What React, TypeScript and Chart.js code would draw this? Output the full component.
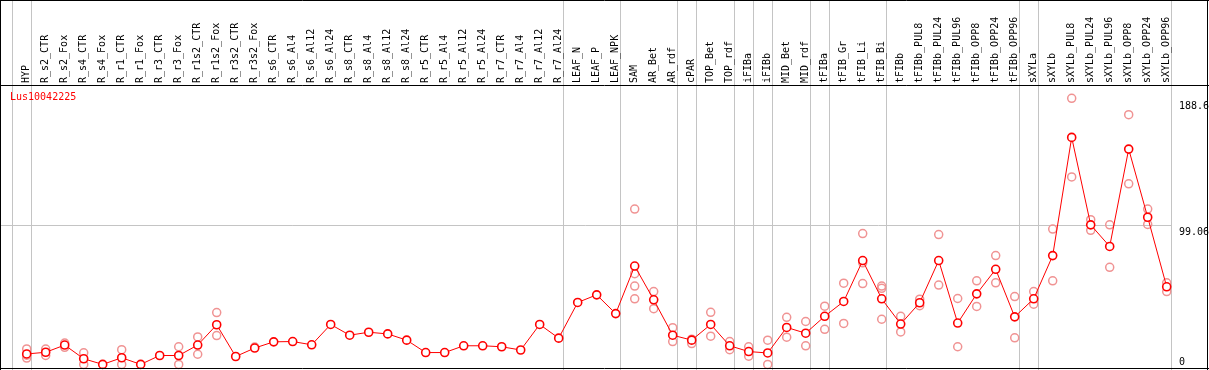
import React, { useEffect, useRef } from "react";
import { Chart, registerables } from "chart.js";

Chart.register(...registerables);

const W = 1209;
const H = 370;

const chartTitle = "Lus10042225";

const categories = [
  "HYP", "R_s2_CTR", "R_s2_Fox", "R_s4_CTR", "R_s4_Fox", "R_r1_CTR", "R_r1_Fox",
  "R_r3_CTR", "R_r3_Fox", "R_r1s2_CTR", "R_r1s2_Fox", "R_r3s2_CTR", "R_r3s2_Fox",
  "R_s6_CTR", "R_s6_Al4", "R_s6_Al12", "R_s6_Al24", "R_s8_CTR", "R_s8_Al4",
  "R_s8_Al12", "R_s8_Al24", "R_r5_CTR", "R_r5_Al4", "R_r5_Al12", "R_r5_Al24",
  "R_r7_CTR", "R_r7_Al4", "R_r7_Al12", "R_r7_Al24", "LEAF_N", "LEAF_P", "LEAF_NPK",
  "SAM", "AR_Bet", "AR_rdf", "cPAR", "TOP_Bet", "TOP_rdf", "iFIBa", "iFIBb",
  "MID_Bet", "MID_rdf", "tFIBa", "tFIB_Gr", "tFIB_Li", "tFIB_Bi", "tFIBb",
  "tFIBb_PUL8", "tFIBb_PUL24", "tFIBb_PUL96", "tFIBb_OPP8", "tFIBb_OPP24",
  "tFIBb_OPP96", "sXYLa", "sXYLb", "sXYLb_PUL8", "sXYLb_PUL24", "sXYLb_PUL96",
  "sXYLb_OPP8", "sXYLb_OPP24", "sXYLb_OPP96",
];

const meanValues = [
  7.4, 8.6, 13.7, 4.0, 0, 4.7, 0, 6.3, 6.3, 13.7, 28.1, 5.6, 11.6,
  16.0, 16.2, 13.9, 28.3, 20.7, 22.8, 21.6, 17.2, 8.4, 8.4, 13.2, 13.2,
  12.5, 10.2, 28.3, 18.6, 43.9, 49.3, 36.0, 69.7, 45.8, 20.7, 17.2, 28.3,
  13.2, 9.1, 8.1, 26.2, 22.1, 34.1, 44.6, 73.6, 46.5, 28.6, 43.7, 73.6,
  29.3, 50.0, 67.4, 33.7, 46.5, 77.1, 160.9, 98.9, 83.6, 152.6, 104.3, 55.0,
];

const N = null;
const repA = [
  11, 10.9, 15.1, 8.2, N, 10.4, N, N, 12.5, 19.5, 36.7, N, 12.3,
  N, N, N, N, N, N, N, N, N, N, N, N,
  N, N, N, N, N, N, N, 110.1, 51.6, 26.0, 17.9, 36.9,
  16.2, 12.5, 17.2, 33.4, 30.4, 41.3, 57.6, 92.7, 55.5, 34.1, 46.2, 92.0,
  46.7, 59.2, 77.1, 48.1, 51.6, 95.9, 188.6, 102.6, 98.9, 177.0, 110.1, 57.8,
];
const repB = [
  4.5, 6.3, 12.1, 0, N, 0, N, N, 0, 7.2, 20.4, N, N,
  N, N, N, N, N, N, N, N, N, N, N, N,
  N, N, N, N, N, N, N, 46.5, 39.5, 16.2, 14.8, 20.0,
  10.4, 5.8, 0, 19.3, 13.2, 24.9, 29.0, 57.3, 32.0, 23.0, 41.6, 56.2,
  12.5, 41.1, 57.8, 18.8, 42.7, 59.2, 132.9, 95.0, 68.8, 128.0, 99.2, 51.6,
];
const repC = [
  6.5, N, N, N, N, N, N, N, N, N, N, N, N,
  N, N, N, N, N, N, N, N, N, N, N, N,
  N, N, N, N, N, N, N, 64.3, N, N, N, N,
  N, N, N, N, N, N, N, 72.0, 53.9, N, N, N,
  N, N, N, N, N, N, N, N, N, N, N, N,
];
const repD = [
  N, N, N, N, N, N, N, N, N, N, N, N, N,
  N, N, N, N, N, N, N, N, N, N, N, N,
  N, N, N, N, N, N, N, 55.5, N, N, N, N,
  N, N, N, N, N, N, N, N, N, N, N, N,
  N, N, N, N, N, N, N, N, N, N, N, N,
];

// separators drawn just after these category indices
const groupEnds = [-1, 0, 28, 31, 34, 35, 37, 38, 39, 41, 42, 45, 52, 53, 60];

const yTickValues = [188.6, 99.06, 0];
const yTickLabels = ["188.6", "99.06", "0"];

const FONT = '10px "DejaVu Sans Mono", monospace';

export default function App() {
  const ref = useRef<HTMLCanvasElement | null>(null);

  useEffect(() => {
    const canvas = ref.current;
    if (!canvas) return;

    const toPts = (arr: (number | null)[]) =>
      arr
        .map((v, i) => (v === null ? null : { x: i, y: v }))
        .filter((p) => p !== null) as { x: number; y: number }[];

    const repPoints = [...toPts(repA), ...toPts(repB), ...toPts(repC), ...toPts(repD)];

    const decor = {
      id: "decor",
      beforeDraw(chart: any) {
        const { ctx, scales } = chart;
        const x = scales.x;
        const y = scales.y;
        const step = x.getPixelForValue(1) - x.getPixelForValue(0);
        const sepX = (i: number) => Math.round(x.getPixelForValue(i) + step * 0.21) + 0.5;
        ctx.save();
        ctx.fillStyle = "#ffffff";
        ctx.fillRect(0, 0, W, H);

        ctx.strokeStyle = "#c4c4c4";
        ctx.lineWidth = 1;
        groupEnds.forEach((i) => {
          const px = sepX(i);
          ctx.beginPath();
          ctx.moveTo(px, 0);
          ctx.lineTo(px, H);
          ctx.stroke();
        });
        const rightEdge = sepX(categories.length - 1);
        const gy = Math.round(y.getPixelForValue(yTickValues[1])) + 0.5;
        ctx.beginPath();
        ctx.moveTo(0, gy);
        ctx.lineTo(rightEdge, gy);
        ctx.stroke();

        // category labels (vertical)
        ctx.fillStyle = "#000000";
        ctx.font = FONT;
        ctx.textAlign = "left";
        ctx.textBaseline = "alphabetic";
        categories.forEach((c, i) => {
          const px = x.getPixelForValue(i);
          ctx.save();
          ctx.translate(px + 2, 83);
          ctx.rotate(-Math.PI / 2);
          ctx.fillText(c, 0, 0);
          ctx.restore();
        });

        // y tick labels
        ctx.textBaseline = "middle";
        yTickValues.forEach((v, k) => {
          const py = Math.min(y.getPixelForValue(v) + 8, H - 8);
          ctx.fillText(yTickLabels[k], rightEdge + 7.5, py);
        });

        // title
        ctx.fillStyle = "#ff0000";
        ctx.fillText(chartTitle, 10, 97);
        ctx.restore();
      },
      afterDraw(chart: any) {
        const { ctx } = chart;
        ctx.save();
        ctx.strokeStyle = "#000000";
        ctx.lineWidth = 1;
        ctx.beginPath();
        ctx.moveTo(0, 0.5);
        ctx.lineTo(W, 0.5);
        ctx.moveTo(0.5, 0);
        ctx.lineTo(0.5, H);
        ctx.moveTo(W - 1.5, 0);
        ctx.lineTo(W - 1.5, H);
        ctx.moveTo(0, H - 1.5);
        ctx.lineTo(W, H - 1.5);
        ctx.moveTo(0, 85.5);
        ctx.lineTo(W, 85.5);
        ctx.stroke();
        ctx.restore();
      },
    };

    const chart = new Chart(canvas, {
      type: "line",
      data: {
        datasets: [
          {
            type: "line",
            label: "mean",
            data: meanValues.map((v, i) => ({ x: i, y: v })),
            borderColor: "#ff0000",
            borderWidth: 1,
            pointRadius: 4,
            pointBorderWidth: 1.6,
            pointBorderColor: "#ff0000",
            pointBackgroundColor: "#ffffff",
            tension: 0,
            clip: false as any,
          },
          {
            type: "scatter",
            label: "replicates",
            data: repPoints,
            showLine: false,
            pointRadius: 4,
            pointBorderWidth: 1.5,
            pointBorderColor: "#f09393",
            pointBackgroundColor: "rgba(0,0,0,0)",
            clip: false as any,
          } as any,
        ],
      },
      options: {
        responsive: false,
        animation: false,
        devicePixelRatio: 1,
        layout: { padding: { left: 26.7, right: W - 1166.7, top: 98.3, bottom: 1 } },
        plugins: { legend: { display: false }, tooltip: { enabled: false } },
        scales: {
          x: { type: "linear", min: 0, max: categories.length - 1, display: false },
          y: { type: "linear", min: 0, max: yTickValues[0], display: false },
        },
      },
      plugins: [decor],
    });

    return () => chart.destroy();
  }, []);

  return (
    <div style={{ position: "fixed", left: 0, top: 0, width: W, height: H, background: "#fff" }}>
      <canvas ref={ref} width={W} height={H} style={{ display: "block" }} />
    </div>
  );
}
